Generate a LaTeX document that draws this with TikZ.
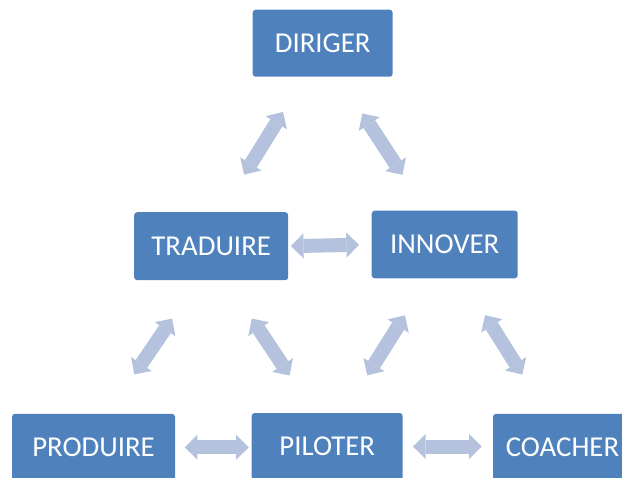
\documentclass[tikz,border=0pt]{standalone}
\usepackage{fontspec}
\setmainfont{Carlito}
\usetikzlibrary{arrows.meta}
\definecolor{boxblue}{HTML}{4F81BD}
\definecolor{linkblue}{HTML}{B4C2DE}
\tikzset{
  role/.style={fill=boxblue, rounded corners=2.25pt, text=white, inner sep=0pt,
    minimum height=50.25pt, font=\fontsize{21.6}{26}\selectfont},
  link/.style={draw=linkblue, line width=10.5pt,
    {Triangle[length=9.5pt,width=18.75pt,line width=0pt]}-{Triangle[length=9.5pt,width=18.75pt,line width=0pt]}},
}
\begin{document}
\begin{tikzpicture}[x=0.75pt, y=-0.75pt]
    \useasboundingbox (0,0) rectangle (622,478);
    \node[role, minimum width=105pt] (dir) at (322.7,43.2) {DIRIGER};
    \node[role, minimum width=115.5pt, minimum height=51pt] (trad) at (211.2,246.2) {TRADUIRE};
    \node[role, minimum width=109.5pt, minimum height=50.7pt] (inno) at (444.7,244.5) {INNOVER};
    \node[role, minimum width=122.25pt] (prod) at (93.5,447.3) {PRODUIRE};
    \node[role, minimum width=113.25pt] (pilo) at (327.2,446.5) {PILOTER};
    \node[role, minimum width=104.25pt] (coach) at (562.5,447.3) {COACHER};
    \draw[link, shorten <=30.9pt, shorten >=32.9pt] (dir.242) -- (trad.74);
    \draw[link, shorten <=32.7pt, shorten >=31.9pt] (dir.295.9) -- (inno.119.2);
    \draw[link, shorten <=1.8pt, shorten >=9.3pt] (trad.east) -- (inno.west);
    \draw[link, shorten <=34.6pt, shorten >=35.4pt] (trad.249.8) -- (prod.67.5);
    \draw[link, shorten <=34.3pt, shorten >=33.5pt] (trad.294.1) -- (pilo.111.5);
    \draw[link, shorten <=32.6pt, shorten >=33.2pt] (inno.244.3) -- (pilo.64.9);
    \draw[link, shorten <=32.4pt, shorten >=34.5pt] (inno.297.4) -- (coach.115.4);
    \draw[link, shorten <=7.1pt, shorten >=2pt] (prod.east) -- (prod.east -| pilo.west);
    \draw[link, shorten <=7.5pt, shorten >=8.3pt] (pilo.east) -- (pilo.east -| coach.west);
\end{tikzpicture}
\end{document}
